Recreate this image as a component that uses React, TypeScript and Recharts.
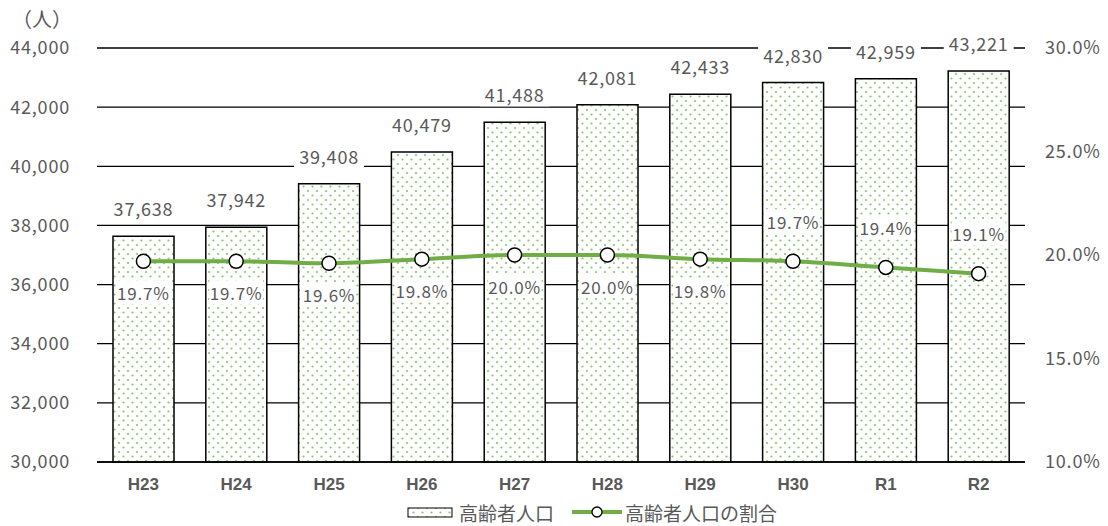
import React from "react";
import {
  ComposedChart,
  Bar,
  Line,
  XAxis,
  YAxis,
  CartesianGrid,
  LabelList,
  Legend,
} from "recharts";

const years = ["H23", "H24", "H25", "H26", "H27", "H28", "H29", "H30", "R1", "R2"];
const elderly = [37638, 37942, 39408, 40479, 41488, 42081, 42433, 42830, 42959, 43221];
const ratio = [19.7, 19.7, 19.6, 19.8, 20.0, 20.0, 19.8, 19.7, 19.4, 19.1];
// where each ratio label sits relative to its point
const ratioLabelSide = ["below", "below", "below", "below", "below", "below", "below", "above", "above", "above"];
const leftTicks = [30000, 32000, 34000, 36000, 38000, 40000, 42000, 44000];
const rightTicks = [10, 15, 20, 25, 30];

const data = years.map((name, i) => ({ name, elderly: elderly[i], ratio: ratio[i] }));

const GREY = "#595959";
const GREEN = "#70AD47";
const JP = "'Noto Sans CJK JP', 'Noto Sans', sans-serif";

function BarValueLabel(props: any) {
  const { x, y, width, value } = props;
  const text = Number(value).toLocaleString("en-US");
  const cx = x + width / 2;
  const cy = y - 28;
  const w = text.length * 10 + 10;
  return (
    <g>
      <rect x={cx - w / 2} y={cy - 12} width={w} height={24} fill="#fff" />
      <text
        x={cx}
        y={cy}
        textAnchor="middle"
        dominantBaseline="central"
        fill={GREY}
        fontSize={18}
        fontFamily={JP}
        letterSpacing={0.8}
      >
        {text}
      </text>
    </g>
  );
}

function RatioLabel(props: any) {
  const { x, y, value, index } = props;
  const text = Number(value).toFixed(1) + "%";
  const cy = ratioLabelSide[index] === "above" ? y - 40 : y + 31;
  const w = 54;
  return (
    <g>
      <rect x={x - w / 2} y={cy - 12} width={w} height={24} fill="#fff" />
      <text
        x={x}
        y={cy}
        textAnchor="middle"
        dominantBaseline="central"
        fill={GREY}
        fontSize={17}
        fontFamily={JP}
        letterSpacing={0.8}
      >
        {text}
      </text>
    </g>
  );
}

function LegendContent() {
  return (
    <div
      style={{
        display: "flex",
        alignItems: "center",
        height: 24,
        paddingLeft: 407,
        fontFamily: JP,
        fontSize: 19,
        color: GREY,
      }}
    >
      <svg width={46} height={12} style={{ marginRight: 6 }}>
        <defs>
          <pattern id="dotsLegend" width={9} height={9} patternUnits="userSpaceOnUse">
            <rect width={9} height={9} fill="#fff" />
            <circle cx={2} cy={2} r={1.1} fill="#8CC46F" />
            <circle cx={6.5} cy={6.5} r={1.1} fill="#8CC46F" />
          </pattern>
        </defs>
        <rect x={1} y={2} width={44} height={9} fill="url(#dotsLegend)" stroke="#000" strokeWidth={1} />
      </svg>
      <span style={{ marginRight: 18 }}>高齢者人口</span>
      <svg width={50} height={14} style={{ marginRight: 3 }}>
        <line x1={0} y1={7} x2={50} y2={7} stroke={GREEN} strokeWidth={4} />
        <circle cx={25} cy={7} r={5} fill="#fff" stroke="#000" strokeWidth={1.3} />
      </svg>
      <span>高齢者人口の割合</span>
    </div>
  );
}

export default function App() {
  return (
    <div style={{ position: "absolute", left: 0, top: 0, width: 1108, height: 526, background: "#fff" }}>
      <div
        style={{
          position: "absolute",
          left: 12,
          top: 4,
          fontFamily: JP,
          fontSize: 20,
          color: GREY,
          zIndex: 2,
        }}
      >
        （人）
      </div>
      <ComposedChart
        width={1108}
        height={526}
        data={data}
        margin={{ top: 48, right: 0, left: 0, bottom: 2 }}
      >
        <defs>
          <pattern id="dots" width={9} height={9} patternUnits="userSpaceOnUse">
            <rect width={9} height={9} fill="#fff" />
            <circle cx={2} cy={2} r={1.1} fill="#8CC46F" />
            <circle cx={6.5} cy={6.5} r={1.1} fill="#8CC46F" />
          </pattern>
        </defs>
        <CartesianGrid yAxisId="left" vertical={false} stroke="#000" strokeWidth={1.3} />
        <XAxis
          dataKey="name"
          axisLine={{ stroke: "#000", strokeWidth: 1.5 }}
          tickLine={false}
          tickSize={0}
          tickMargin={16}
          height={38}
          tick={{ fill: GREY, fontSize: 17, fontWeight: "bold", fontFamily: "'Liberation Sans Narrow', 'Liberation Sans', sans-serif" }}
        />
        <YAxis
          yAxisId="left"
          domain={[30000, 44000]}
          ticks={leftTicks}
          axisLine={false}
          tickLine={false}
          tickSize={0}
          tickMargin={27}
          width={97}
          interval={0}
          tickFormatter={(v: number) => v.toLocaleString("en-US")}
          tick={{ fill: GREY, fontSize: 18, fontFamily: JP, letterSpacing: 0.8 }}
        />
        <YAxis
          yAxisId="right"
          orientation="right"
          domain={[10, 30]}
          ticks={rightTicks}
          axisLine={false}
          tickLine={false}
          tickSize={0}
          tickMargin={20}
          width={83}
          interval={0}
          tickFormatter={(v: number) => v.toFixed(1) + "%"}
          tick={{ fill: GREY, fontSize: 18, fontFamily: JP, letterSpacing: 0.8 }}
        />
        <Bar
          yAxisId="left"
          dataKey="elderly"
          name="高齢者人口"
          barSize={61}
          fill="url(#dots)"
          stroke="#000"
          strokeWidth={1.5}
          isAnimationActive={false}
        >
          <LabelList dataKey="elderly" content={BarValueLabel} />
        </Bar>
        <Line
          yAxisId="right"
          type="monotone"
          dataKey="ratio"
          name="高齢者人口の割合"
          stroke={GREEN}
          strokeWidth={4}
          dot={{ r: 7, fill: "#fff", stroke: "#000", strokeWidth: 1.5 }}
          activeDot={false}
          isAnimationActive={false}
        >
          <LabelList dataKey="ratio" content={RatioLabel} />
        </Line>
        <Legend verticalAlign="bottom" content={LegendContent} />
      </ComposedChart>
    </div>
  );
}
